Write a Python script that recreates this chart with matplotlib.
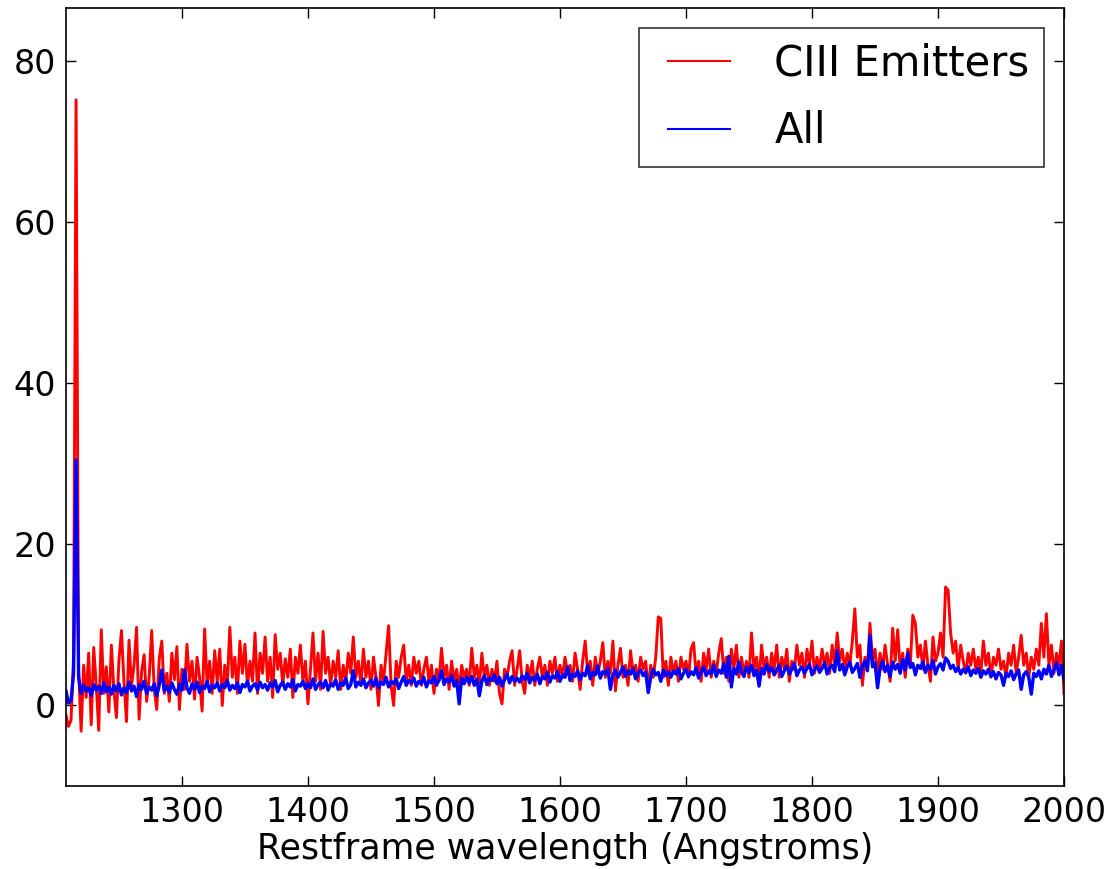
import numpy as np
import matplotlib
matplotlib.use('Agg')
import matplotlib.pyplot as plt
from matplotlib.legend_handler import HandlerLine2D

# restframe wavelength grid, 2 Angstrom bins
wave = np.arange(1208, 2001, 2)

# stacked flux of the CIII emitters
flux_ciii = [
    -1.2, -2.6, -1.8, 6.0, 75.2, 4.5, -3.2, 5.0, 1.0, 6.5, -2.4, 7.2, 2.5, -3.1, 9.4, 1.5, 4.8, -0.8, 7.5, 2.0,
    -1.5, 5.5, 9.3, 3.0, -2.0, 8.1, 2.5, 5.0, 9.7, -1.7, 4.2, 6.3, 0.5, 3.5, 9.3, 2.0, -0.5, 5.8, 8.0, 1.5,
    4.0, 0.5, 6.5, 3.2, 7.3, -0.5, 4.5, 2.0, 7.6, 3.0, 5.5, 0.8, 6.0, 3.5, -0.7, 9.5, 2.5, 5.5, 1.5, 6.8,
    3.0, 7.0, 0.0, 5.0, 2.5, 9.7, 3.5, 6.0, 1.5, 8.0, 4.0, 7.6, 2.5, 5.5, 3.0, 9.0, 1.5, 6.5, 4.0, 8.5,
    3.0, 6.0, 1.0, 8.8, 4.5, 6.5, 2.5, 5.8, 3.5, 7.0, 1.0, 6.0, 4.0, 7.5, 3.0, 5.5, 0.2, 4.5, 9.0, 3.0,
    6.5, 2.0, 9.2, 4.0, 6.0, 2.5, 5.5, 3.5, 6.8, 2.0, 5.0, 3.0, 6.5, 4.0, 8.5, 3.5, 5.5, 2.5, 7.0, 3.5,
    5.5, 2.0, 6.0, 3.5, 0.0, 5.0, 3.0, 6.5, 9.9, 2.5, 0.0, 5.5, 3.5, 6.0, 7.5, 3.0, 5.0, 2.5, 6.0, 4.0,
    5.5, 2.5, 4.5, 6.0, 3.0, 5.0, 1.5, 4.5, 3.0, 7.1, 3.5, 5.0, 2.0, 5.5, 3.0, 4.5, 2.0, 5.0, 3.5, 4.5,
    2.5, 7.1, 3.5, 5.0, 2.5, 6.5, 3.5, 5.0, 2.5, 4.5, 3.0, 5.5, 1.5, 0.2, 4.5, 3.5, 5.5, 6.8, 2.5, 4.5,
    6.8, 3.0, 1.5, 5.0, 3.5, 5.5, 2.5, 4.5, 6.0, 3.5, 5.0, 2.5, 5.5, 4.0, 6.0, 3.0, 5.0, 3.5, 6.0, 4.0,
    5.0, 3.0, 6.5, 4.5, 2.0, 5.5, 8.0, 4.0, 5.5, 2.5, 6.0, 4.0, 5.5, 7.8, 3.5, 5.5, 4.0, 8.0, 1.8, 5.0,
    7.1, 3.5, 5.0, 2.5, 6.8, 4.0, 5.0, 3.0, 6.0, 4.5, 5.5, 2.0, 5.0, 3.5, 6.0, 11.0, 10.8, 3.5, 5.5, 2.5,
    6.0, 4.0, 5.5, 3.0, 6.0, 4.5, 5.5, 3.5, 7.0, 7.8, 4.0, 5.5, 3.0, 6.5, 4.5, 7.0, 3.5, 5.5, 4.0, 6.5,
    8.3, 4.0, 6.0, 3.0, 7.0, 4.5, 7.5, 3.5, 6.0, 4.0, 5.5, 3.5, 9.0, 4.5, 6.0, 3.0, 7.5, 4.5, 6.0, 3.5,
    6.5, 4.5, 7.5, 3.5, 6.0, 4.5, 7.0, 3.0, 5.5, 4.5, 7.5, 5.0, 6.5, 3.5, 7.0, 5.0, 8.0, 4.0, 6.0, 4.5,
    7.0, 5.0, 6.5, 4.0, 7.5, 5.0, 9.0, 5.5, 7.0, 4.5, 6.5, 5.0, 8.0, 12.0, 6.0, 7.5, 2.5, 6.0, 4.5, 10.2,
    5.5, 7.0, 3.5, 6.5, 4.5, 7.5, 5.0, 3.0, 9.6, 5.5, 9.4, 4.5, 6.5, 3.5, 7.0, 5.0, 11.2, 10.2, 6.0, 7.5,
    4.5, 8.0, 5.0, 3.0, 8.5, 5.5, 6.5, 9.0, 6.0, 14.7, 14.3, 9.0, 6.5, 8.0, 4.5, 7.5, 5.5, 4.0, 6.5, 5.0,
    7.0, 4.5, 6.0, 4.0, 8.0, 5.0, 6.5, 3.5, 6.0, 5.0, 7.0, 4.5, 5.5, 3.5, 6.5, 5.0, 7.5, 4.0, 6.0, 8.7,
    5.0, 6.5, 3.5, 6.0, 4.5, 7.0, 5.0, 10.2, 6.0, 11.4, 5.0, 7.5, 4.0, 6.5, 5.0, 8.0, 1.5,
]

# stacked flux of the full sample
flux_all = [
    1.8, 0.3, 0.6, 4.0, 30.5, 3.5, 1.5, 2.5, 1.8, 2.2, 1.2, 2.6, 1.9, 2.4, 1.5, 2.8, 1.7, 2.3, 1.4, 2.5,
    1.8, 2.7, 1.3, 2.2, 1.6, 2.9, 1.8, 2.4, 1.1, 2.6, 2.0, 3.0, 1.5, 2.3, 1.9, 2.7, 1.2, 2.5, 4.4, 1.8,
    2.4, 1.6, 2.8, 2.0, 1.4, 2.6, 1.9, 4.4, 2.2, 1.5, 2.7, 2.0, 2.9, 1.6, 2.4, 2.1, 3.0, 1.7, 2.5, 2.2,
    2.8, 1.8, 2.6, 2.2, 3.1, 1.9, 2.5, 2.1, 2.8, 1.6, 2.6, 2.3, 3.0, 1.8, 2.4, 2.7, 1.9, 2.9, 2.2, 2.6,
    1.9, 2.8, 2.3, 3.1, 1.7, 2.5, 2.9, 2.0, 2.7, 2.3, 3.2, 1.8, 2.6, 2.4, 3.0, 2.1, 2.7, 2.2, 3.3, 2.0,
    2.6, 2.9, 2.2, 3.1, 1.9, 2.7, 2.4, 3.2, 2.0, 2.8, 2.5, 3.4, 2.1, 2.6, 4.3, 2.3, 2.9, 2.5, 3.3, 2.2,
    2.8, 3.1, 2.4, 3.4, 2.2, 2.9, 2.6, 3.5, 2.3, 3.0, 2.7, 3.3, 2.1, 2.9, 3.6, 2.5, 3.1, 2.8, 3.4, 2.4,
    3.0, 2.7, 3.5, 2.3, 3.1, 2.8, 3.6, 2.5, 3.2, 4.3, 2.6, 3.3, 2.9, 3.7, 2.4, 3.1, 0.2, 3.4, 2.7, 3.5,
    2.8, 3.6, 2.5, 3.3, 1.2, 3.0, 3.7, 2.6, 3.4, 3.1, 3.8, 2.7, 3.5, 2.4, 3.2, 3.9, 2.8, 3.6, 3.0, 3.4,
    2.9, 3.7, 3.2, 4.0, 2.8, 3.5, 3.1, 3.9, 2.7, 3.6, 3.3, 4.1, 2.9, 3.7, 3.4, 4.2, 3.0, 3.8, 3.5, 4.8,
    3.1, 3.9, 3.6, 4.3, 3.2, 4.0, 3.7, 5.0, 3.3, 4.1, 3.8, 4.9, 3.4, 4.2, 3.9, 4.6, 2.0, 3.8, 4.4, 3.5,
    4.1, 4.8, 3.6, 4.3, 3.9, 4.6, 3.3, 4.0, 4.4, 3.7, 4.2, 1.6, 3.5, 4.5, 3.8, 4.1, 3.0, 4.4, 3.7, 4.2,
    3.5, 4.3, 3.9, 4.6, 3.3, 4.0, 4.5, 3.6, 4.2, 3.8, 4.7, 3.4, 4.1, 4.8, 3.7, 4.3, 3.9, 5.0, 3.6, 4.4,
    4.0, 5.2, 3.5, 6.1, 2.3, 4.6, 3.9, 5.4, 4.2, 3.6, 4.8, 4.1, 5.0, 3.7, 4.4, 2.4, 4.6, 3.9, 5.1, 4.2,
    4.7, 3.8, 4.4, 5.0, 3.6, 4.3, 4.9, 3.9, 4.5, 5.2, 3.7, 4.4, 4.8, 4.0, 4.6, 5.1, 3.8, 4.5, 4.9, 4.1,
    4.6, 5.3, 3.9, 4.7, 5.0, 4.2, 6.8, 4.4, 5.1, 3.8, 4.8, 5.4, 4.1, 4.6, 5.2, 3.5, 4.9, 5.5, 4.3, 8.7,
    4.8, 5.3, 2.2, 4.6, 5.5, 4.2, 5.0, 3.6, 5.4, 4.5, 5.1, 4.0, 5.7, 4.4, 6.5, 4.7, 5.2, 3.8, 5.0, 4.6,
    5.4, 4.1, 5.0, 4.5, 5.6, 3.9, 4.8, 5.2, 4.4, 5.9, 5.5, 4.6, 5.0, 4.2, 4.7, 3.9, 4.5, 4.1, 4.8, 3.7,
    4.4, 4.0, 4.6, 3.5, 4.3, 3.9, 4.5, 3.6, 4.2, 3.3, 4.1, 3.8, 2.5, 4.0, 3.6, 4.3, 3.2, 3.9, 4.4, 2.0,
    3.8, 4.2, 3.5, 1.4, 4.0, 3.6, 4.3, 3.3, 4.5, 3.9, 5.0, 3.6, 4.4, 5.3, 3.8, 5.0, 3.2,
]

labels = ['CIII Emitters', 'All']
x_ticks = [1300, 1400, 1500, 1600, 1700, 1800, 1900, 2000]
y_ticks = [0, 20, 40, 60, 80]

fig = plt.figure(figsize=(11.13, 8.69), dpi=100)
ax = fig.add_axes([0.0593, 0.0955, 0.8967, 0.8953])

ax.plot(wave, flux_ciii, color='red', lw=2.1, label=labels[0])
ax.plot(wave, flux_all, color='blue', lw=2.4, label=labels[1])

ax.set_xlim(1208, 2000)
ax.set_ylim(-10, 86.6)
ax.set_xticks(x_ticks)
ax.set_yticks(y_ticks)
ax.tick_params(direction='in', top=True, right=True, length=7, width=1,
               labelsize=24, pad=7)
for sp in ax.spines.values():
    sp.set_linewidth(1.2)

ax.set_xlabel('Restframe wavelength (Angstroms)', fontsize=25, labelpad=2)

# thin legend handles, shifted right inside their box
handler = HandlerLine2D(xpad=0.35)
leg = ax.legend(loc='upper right', fontsize=30, fancybox=False,
                handlelength=1.84, handletextpad=1.06, borderpad=0.35,
                labelspacing=0.62, borderaxespad=0.48,
                handler_map={ln: handler for ln in ax.get_lines()})
for ln in leg.get_lines():
    ln.set_linewidth(1.5)
leg.get_frame().set_edgecolor('black')
leg.get_frame().set_linewidth(1.2)

fig.savefig('out.png', dpi=100)
